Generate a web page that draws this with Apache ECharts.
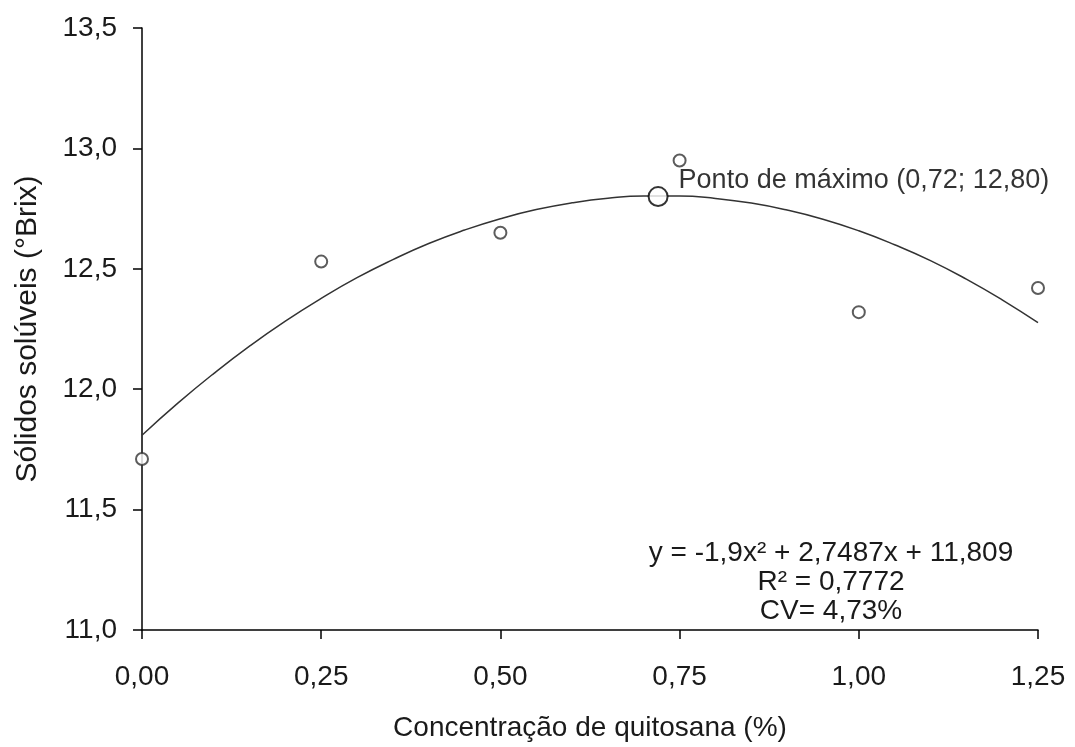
<!DOCTYPE html>
<html>
<head>
<meta charset="utf-8">
<script src="https://cdn.jsdelivr.net/npm/echarts@6/dist/echarts.min.js"></script>
<style>
html,body{margin:0;padding:0;background:#fff;}
#chart{width:1075px;height:747px;}
</style>
</head>
<body>
<div id="chart"></div>
<script>
// Observed data
var xObs = [0, 0.25, 0.5, 0.75, 1.0, 1.25];
var yObs = [11.71, 12.53, 12.65, 12.95, 12.32, 12.42];
// Fitted trend line values
var xTrend = [0,0.05,0.10,0.15,0.20,0.25,0.30,0.35,0.40,0.45,0.50,0.55,0.60,0.65,0.70,0.75,0.80,0.85,0.90,0.95,1.00,1.05,1.10,1.15,1.20,1.25];
var yTrend = [11.809,11.942,12.065,12.179,12.283,12.377,12.463,12.538,12.605,12.661,12.708,12.746,12.774,12.793,12.802,12.802,12.792,12.773,12.744,12.706,12.658,12.600,12.534,12.457,12.371,12.276];
// Maximum point
var xMax = [0.72];
var yMax = [12.80];
var maxLabel = 'Ponto de máximo (0,72; 12,80)';
var eqLines = ['y = -1,9x² + 2,7487x + 11,809', 'R² = 0,7772', 'CV= 4,73%'];
var xTitle = 'Concentração de quitosana (%)';
var yTitle = 'Sólidos solúveis (°Brix)';

function pairs(xs, ys){ return xs.map(function(x,i){ return [x, ys[i]]; }); }

var FONT = '"Liberation Sans", Arial, sans-serif';
var chart = echarts.init(document.getElementById('chart'));
chart.setOption({
  animation: false,
  backgroundColor: '#fff',
  grid: {left: 142, right: 37, top: 28, bottom: 110, containLabel: false},
  xAxis: {
    type: 'value', min: 0, max: 1.25, interval: 0.25,
    name: xTitle, nameLocation: 'middle', nameGap: 84,
    nameTextStyle: {fontSize: 28, color: '#1a1a1a', fontFamily: FONT},
    axisLine: {show: true, onZero: false, lineStyle: {color: '#000', width: 1.5}},
    axisTick: {show: true, inside: false, length: 9, lineStyle: {color: '#000', width: 1.5}},
    splitLine: {show: false},
    axisLabel: {margin: 33, fontSize: 28, color: '#1a1a1a', fontFamily: FONT,
      formatter: function(v){ return v.toFixed(2).replace('.', ','); }}
  },
  yAxis: {
    type: 'value', min: 11, max: 13.5, interval: 0.5,
    name: yTitle, nameLocation: 'middle', nameGap: 99,
    nameTextStyle: {fontSize: 30, color: '#1a1a1a', fontFamily: FONT},
    axisLine: {show: true, onZero: false, lineStyle: {color: '#000', width: 1.5}},
    axisTick: {show: true, inside: false, length: 9, lineStyle: {color: '#000', width: 1.5}},
    splitLine: {show: false},
    axisLabel: {margin: 25, fontSize: 28, color: '#1a1a1a', fontFamily: FONT,
      formatter: function(v){ return v.toFixed(1).replace('.', ','); }}
  },
  series: [
    {
      type: 'line', data: pairs(xTrend, yTrend), smooth: true, showSymbol: false,
      lineStyle: {color: '#333', width: 1.5}, z: 2, silent: true
    },
    {
      type: 'scatter', data: pairs(xObs, yObs), symbol: 'circle', symbolSize: 12,
      itemStyle: {color: '#fff', borderColor: '#333', borderWidth: 2}, z: 3
    },
    {
      type: 'scatter', data: pairs(xMax, yMax), symbol: 'circle', symbolSize: 19,
      itemStyle: {color: '#fff', borderColor: '#000', borderWidth: 2}, z: 4,
      label: {show: true, position: 'right', distance: 10, offset: [0, -16],
        formatter: maxLabel, fontSize: 27, color: '#000', fontFamily: FONT}
    }
  ],
  graphic: [{
    type: 'text', z: 10,
    style: {x: 831, y: 582, text: eqLines.join('\n'), align: 'center', verticalAlign: 'middle',
      lineHeight: 29, font: '28px ' + FONT, fill: '#1a1a1a'}
  }]
});
</script>
</body>
</html>
